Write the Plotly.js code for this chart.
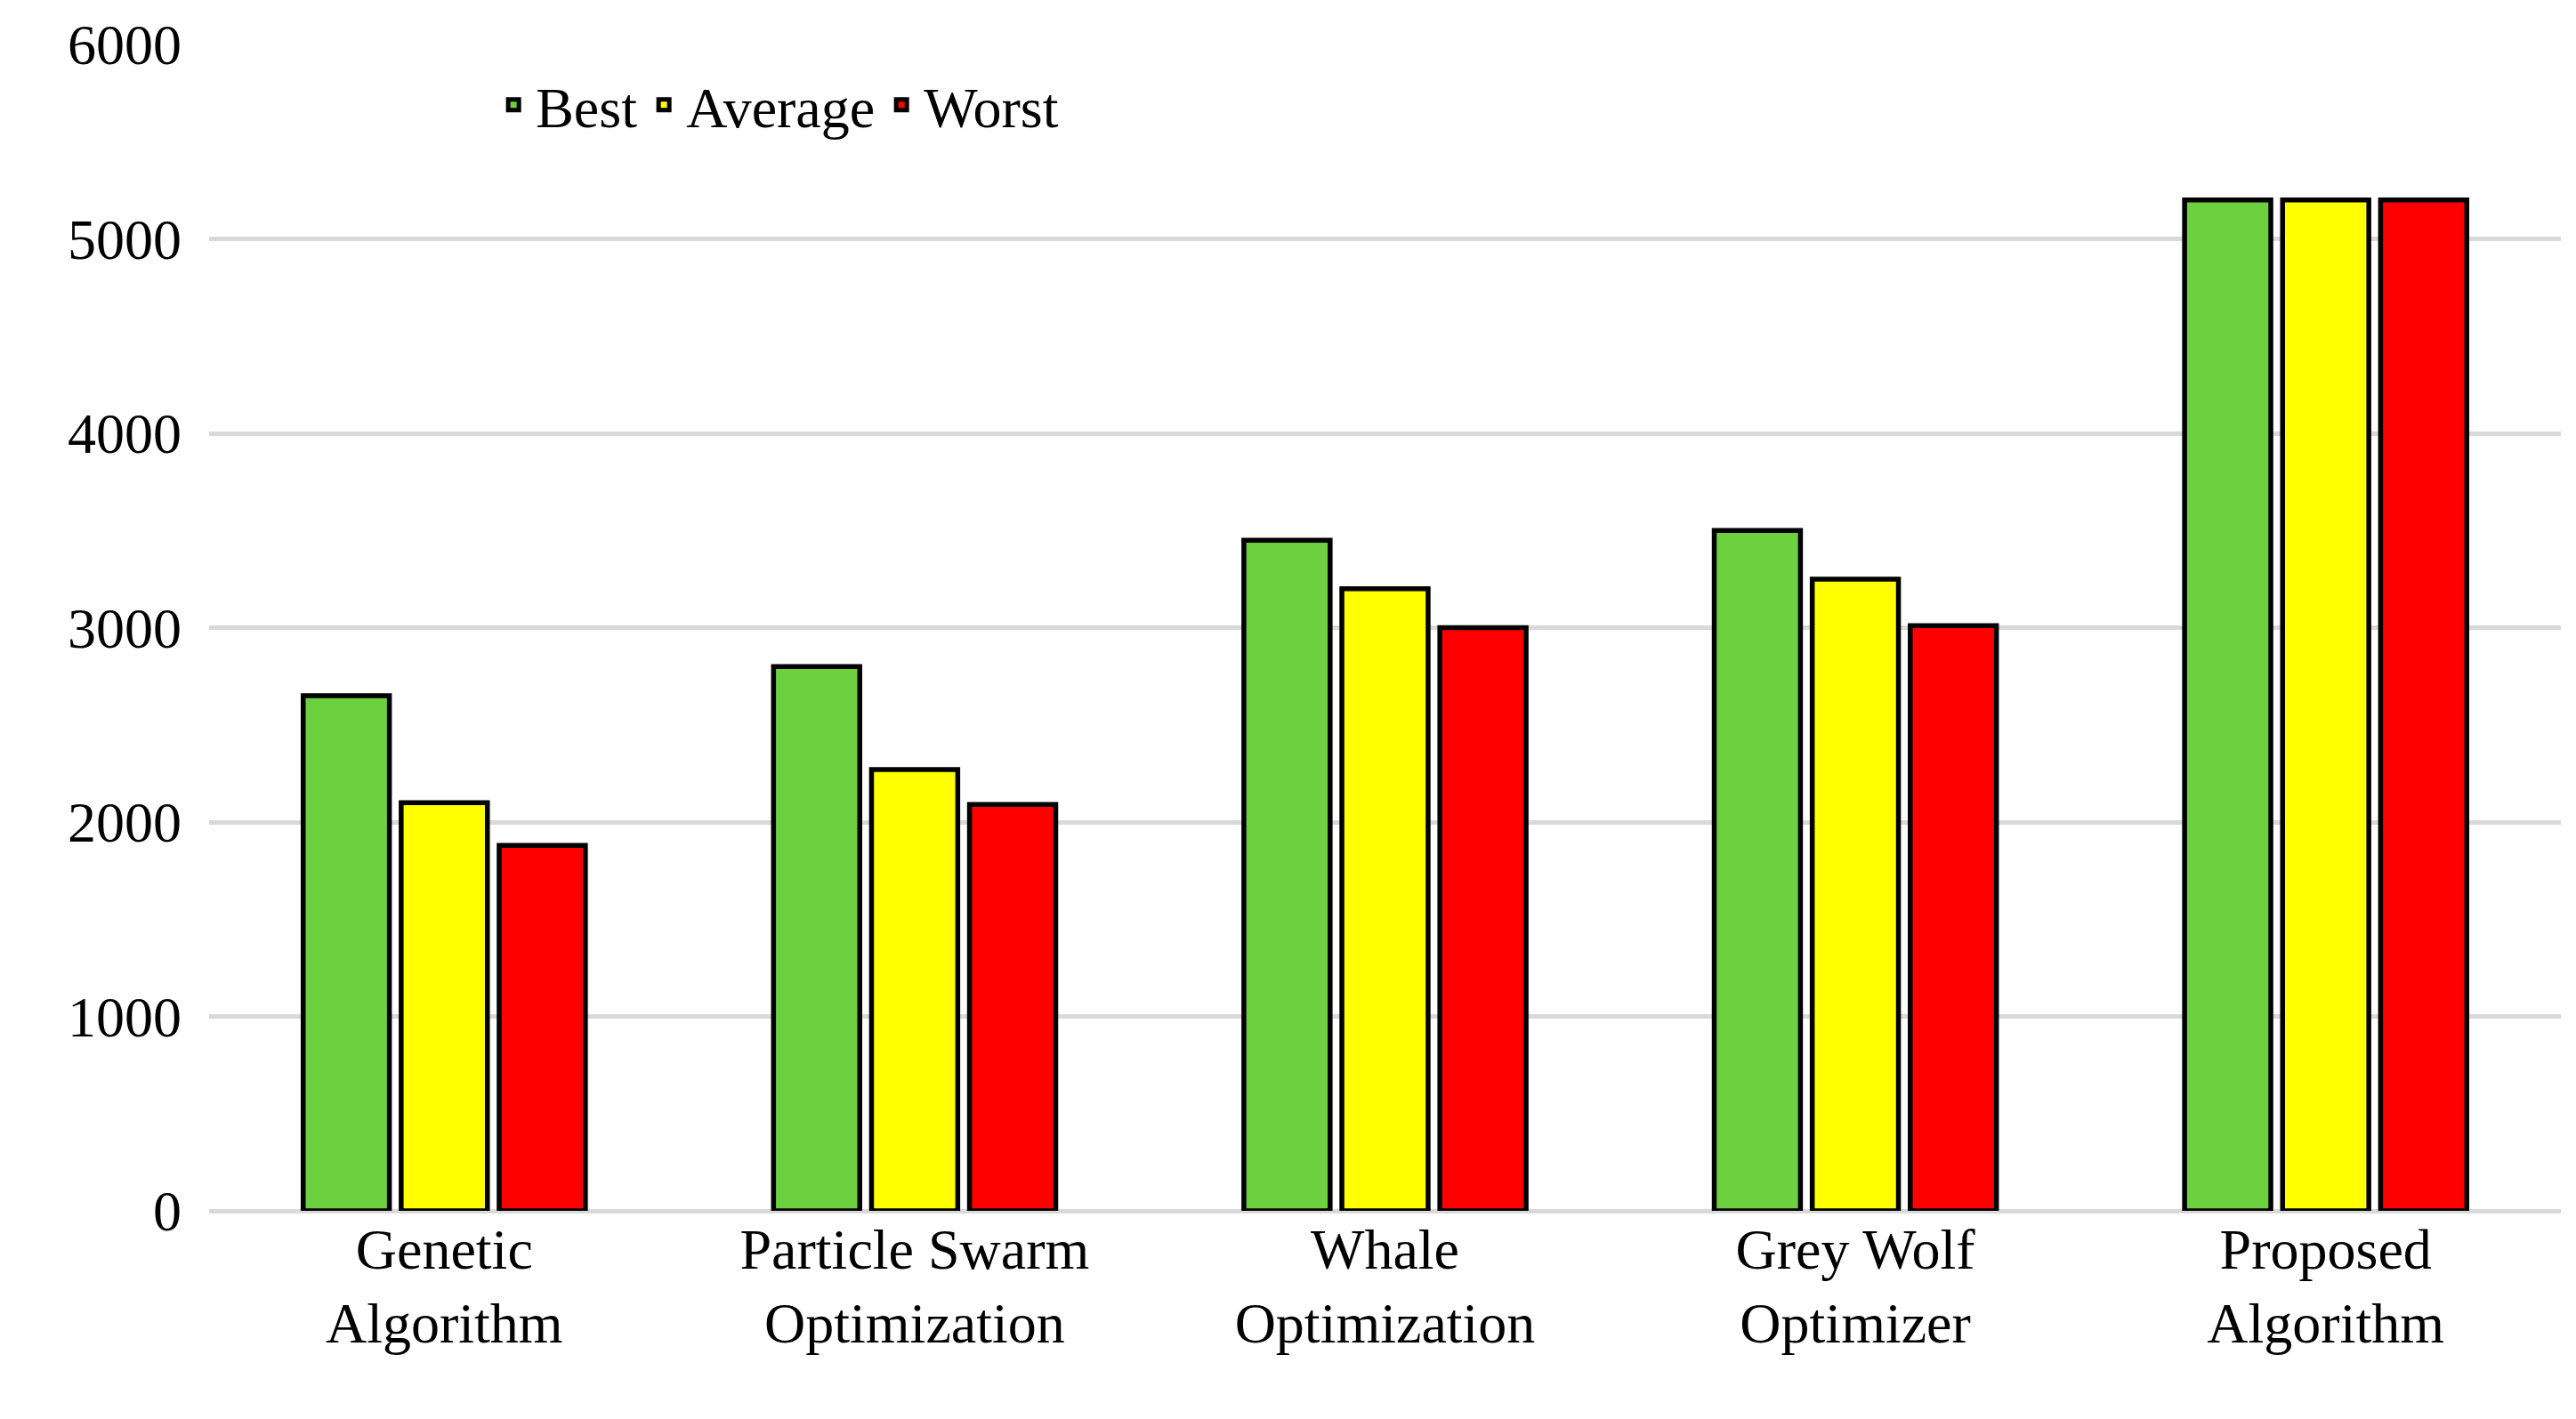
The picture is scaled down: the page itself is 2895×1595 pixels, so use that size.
<!DOCTYPE html>
<html>
<head>
<meta charset="utf-8">
<script src="https://cdn.plot.ly/plotly-3.0.1.min.js"></script>
<style>html,body{margin:0;padding:0;background:#fff}#chart{width:2895px;height:1595px}</style>
</head>
<body>
<div id="chart"></div>
<script>
var categories = ['Genetic<br>Algorithm', 'Particle Swarm<br>Optimization', 'Whale<br>Optimization', 'Grey Wolf<br>Optimizer', 'Proposed<br>Algorithm'];
var bestValues = [2650, 2800, 3450, 3500, 5200];
var averageValues = [2100, 2270, 3200, 3250, 5200];
var worstValues = [1880, 2090, 3000, 3010, 5200];

function bar(name, y, color) {
  return {
    name: name, x: categories, y: y, type: 'bar',
    marker: { color: color, line: { color: '#000', width: 5.5 } }
  };
}

var data = [
  bar('Best', bestValues, '#6dd13f'),
  bar('Average', averageValues, '#ffff00'),
  bar('Worst', worstValues, '#ff0000')
];

var font = { family: 'Liberation Serif, Times New Roman, serif', size: 64, color: '#000' };

var layout = {
  width: 2895, height: 1595,
  paper_bgcolor: '#fff', plot_bgcolor: '#fff',
  margin: { l: 235, r: 17, t: 50, b: 234 },
  font: font,
  barmode: 'group', bargap: 0.375, bargroupgap: 0.12,
  showlegend: true,
  legend: { orientation: 'h', x: 0.12, y: 0.985, xanchor: 'left', yanchor: 'top',
            font: { family: font.family, size: 64, color: '#000' }, itemwidth: 40, tracegroupgap: 0 },
  xaxis: { tickfont: { family: font.family, size: 64, color: '#000' }, showgrid: false, showline: false, ticks: '' },
  yaxis: { range: [0, 6000], dtick: 1000, showgrid: true, gridcolor: '#d9d9d9', gridwidth: 5,
           zeroline: true, zerolinecolor: '#d9d9d9', zerolinewidth: 5,
           tickfont: { family: font.family, size: 64, color: '#000' }, ticks: '', ticklabelstandoff: 30 }
};

Plotly.newPlot('chart', data, layout, { displayModeBar: false });
</script>
</body>
</html>
